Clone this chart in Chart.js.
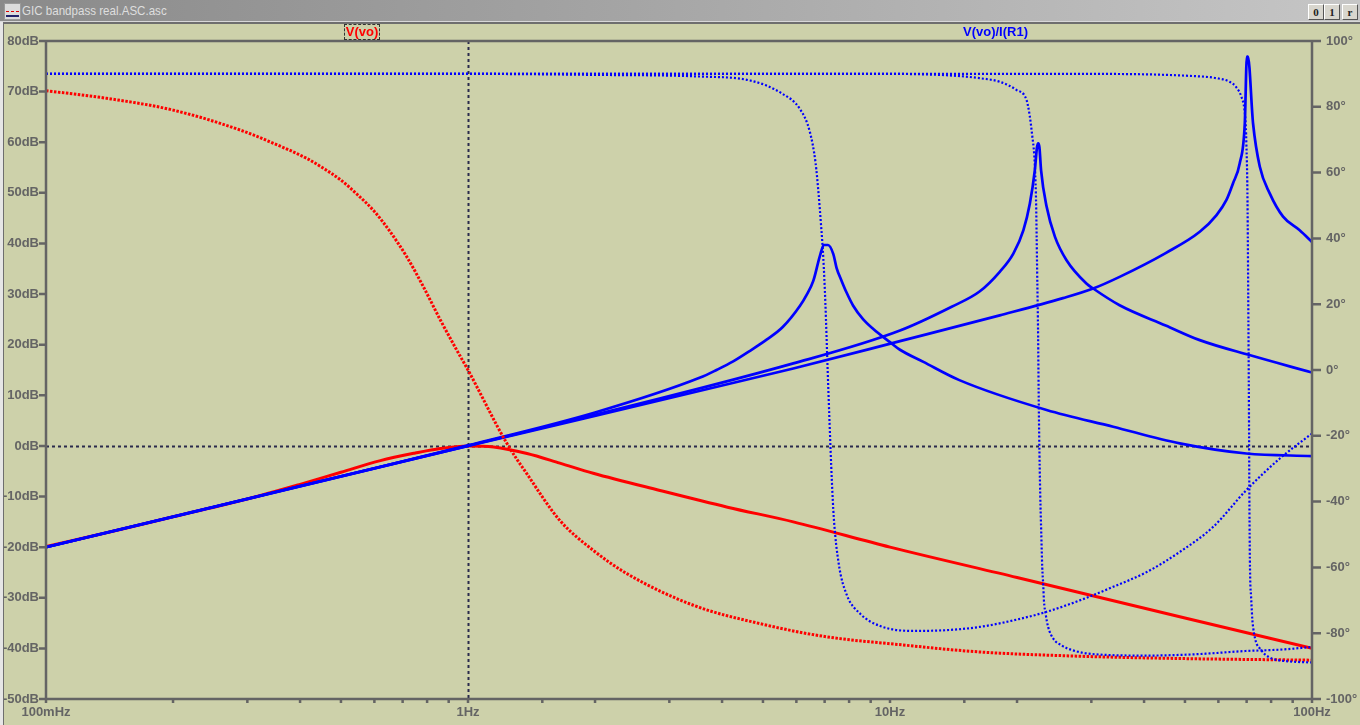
<!DOCTYPE html>
<html>
<head>
<meta charset="utf-8">
<script src="https://cdn.jsdelivr.net/npm/chart.js@4.4.0/dist/chart.umd.min.js"></script>
<style>
html,body{margin:0;padding:0;width:1360px;height:725px;overflow:hidden;background:#cdd1aa;}
#wrap{position:relative;width:1360px;height:725px;}
#c{position:absolute;left:0;top:0;}
#titlebar{position:absolute;left:0;top:0;width:1360px;height:21px;background:linear-gradient(to right,#8a8a8a 0%,#a4a4a4 45%,#c6c6c6 100%);z-index:2;}
#topline{position:absolute;left:0;top:21px;width:1360px;height:2px;background:#6e6e6e;border-top:1px solid #d8d8d8;z-index:2;}
#leftline{position:absolute;left:0;top:22px;width:3px;height:703px;background:#e6e6e6;border-right:1px solid #6e6e6e;z-index:2;}
#title{position:absolute;left:22px;top:3px;font:13px "Liberation Sans",Arial,sans-serif;color:#dedede;white-space:nowrap;transform:scaleX(0.89);transform-origin:0 0;}
#icon{position:absolute;left:4px;top:3px;width:15px;height:15px;background:#dcdcdc;border:1px solid #9a9a9a;}
#icon .r{position:absolute;left:1px;top:7px;width:13px;height:0;border-top:1px dashed #d00;}
#icon .b{position:absolute;left:1px;top:11px;width:13px;height:2px;background:#22226a;}
.btn{position:absolute;top:4px;width:14px;height:14px;background:#d8d6ce;border:1px solid;border-color:#fff #555 #555 #fff;font:bold 11px "Liberation Serif",serif;color:#222;text-align:center;line-height:14px;}
.lab{position:absolute;font:bold 13px "Liberation Sans",Arial,sans-serif;white-space:nowrap;z-index:3;}
#l1{left:344px;top:24px;width:34px;height:14px;line-height:14px;text-align:center;color:#ff0000;border:1px dashed #333;}
#l2{left:963px;top:24px;line-height:16px;color:#0000ff;}
</style>
</head>
<body>
<div id="wrap">
  <canvas id="c" width="1360" height="725"></canvas>
  <div id="titlebar">
    <div id="icon"><div class="r"></div><div class="b"></div></div>
    <div id="title">GIC bandpass real.ASC.asc</div>
    <div class="btn" style="left:1308px">0</div>
    <div class="btn" style="left:1324px">1</div>
    <div class="btn" style="left:1342px">r</div>
  </div>
  <div id="topline"></div>
  <div id="leftline"></div>
  <div class="lab" id="l1">V(vo)</div>
  <div class="lab" id="l2">V(vo)/I(R1)</div>
</div>
<script>
// ---- tick labels ----
const xTickLabels = ['100mHz', '1Hz', '10Hz', '100Hz'];
const yLeftUnit = 'dB';
const yRightUnit = '°';

// ---- V(vo) magnitude (dB) ----
const fRedMag = [0.1, 0.15, 0.2, 0.3, 0.4, 0.5, 0.62, 0.75, 0.86, 1.0, 1.15, 1.38, 1.65, 1.98, 2.85, 4.12, 5.9, 10, 20, 50, 100];
const redMag  = [-19.9, -16.5, -14.0, -10.5, -7.6, -5.2, -2.9, -1.4, -0.5, 0, -0.2, -1.5, -3.4, -5.4, -8.8, -12.1, -15.0, -20.0, -26.0, -34.0, -40.0];

// ---- V(vo) phase (deg) ----
const fRedPh = [0.1, 0.139, 0.2, 0.289, 0.346, 0.415, 0.4545, 0.5, 0.545, 0.6, 0.654, 0.716, 0.784, 0.86, 0.941, 1.0, 1.236, 1.378, 1.65, 1.98, 2.38, 3.42, 4.92, 7.08, 10.4, 16.3, 28.2, 48.6, 100];
const redPh  = [84.9, 82.6, 79.0, 72.9, 68.9, 64.3, 61.3, 57.7, 53.5, 48.2, 42.0, 34.4, 25.3, 15.2, 6.0, 0, -22.3, -31.5, -45.7, -54.8, -61.9, -71.5, -77.1, -81.1, -83.4, -85.7, -87.0, -87.7, -88.2];

// ---- V(vo)/I(R1) magnitude, step 1 (dB) ----
const fZ1 = [0.1, 0.2, 0.5, 1, 2, 3.55, 3.88, 4.25, 4.66, 5.1, 5.57, 6.12, 6.35, 6.58, 6.82, 6.97, 7.13, 7.34, 7.47, 7.68, 7.89, 8.18, 8.64, 9.13, 10.0, 10.56, 12, 14.6, 23.5, 33.8, 48.6, 69.9, 100];
const z1  = [-20, -14, -6, 0.1, 6.6, 13.5, 15.0, 16.7, 18.8, 21.0, 23.5, 27.7, 29.9, 32.6, 37.5, 39.7, 39.7, 37.9, 35.2, 32.6, 30.3, 27.7, 25.0, 23.1, 20.5, 19.0, 16.6, 13.0, 7.1, 3.8, 0.5, -1.5, -2.0];
// ---- step 2 ----
const fZ2 = [0.1, 1, 5.9, 10.56, 14, 16.3, 18.2, 19.6, 20.7, 21.45, 22.04, 22.3, 22.45, 22.6, 22.8, 23.5, 24.6, 26.2, 29.2, 30.3, 35, 45, 54.2, 71.4, 100];
const z2  = [-20, 0, 16.3, 22.8, 27.5, 30.5, 34.4, 38.0, 42.6, 47.9, 54.5, 59.0, 59.8, 59.0, 54.5, 47.3, 41.3, 36.7, 32.1, 31.1, 27.8, 23.8, 20.9, 17.9, 14.5];
// ---- step 3 ----
const fZ3 = [0.1, 1, 5.9, 10.56, 18.2, 25.7, 30.3, 35, 45, 54.2, 59.4, 62.7, 65, 67.4, 69.3, 70.1, 70.5, 72.5, 75.2, 79.4, 85.4, 93.5, 100];
const z3  = [-20, 0, 15.3, 20.7, 25.8, 29.2, 31.1, 33.4, 38.1, 42.3, 45.6, 48.6, 51.9, 55.8, 63.7, 76.9, 76.9, 63.7, 55.2, 49.9, 45.3, 42.6, 40.3];

// ---- V(vo)/I(R1) phase (deg) ----
const fP1 = [0.1, 1, 2, 3.55, 4.66, 5.57, 6.12, 6.46, 6.66, 6.77, 6.86, 6.95, 7.03, 7.11, 7.19, 7.28, 7.36, 7.56, 7.89, 8.5, 9.47, 11.3, 13.5, 16.3, 19.6, 23.5, 28.2, 33.8, 40.6, 48.6, 58.3, 69.9, 83.9, 100];
const p1  = [90, 90, 89.7, 89.2, 88.0, 83.9, 79.3, 72.3, 63.1, 53.8, 44.5, 34.0, 20.1, 1.5, -15.9, -33.4, -45.0, -58.9, -68.2, -74.1, -77.8, -79.3, -79.1, -78.1, -76.1, -73.5, -70.0, -65.9, -61.4, -55.3, -47.7, -36.5, -26.9, -19.3];
const fP2 = [0.1, 10, 14, 16.3, 18.2, 19.95, 21.06, 21.45, 21.72, 21.97, 22.13, 22.2, 22.25, 22.32, 22.44, 22.5, 22.57, 22.7, 22.82, 22.95, 23.08, 23.16, 23.37, 23.7, 24.36, 25.5, 27.1, 30.6, 40.6, 53, 69.9, 83.9, 100];
const p2  = [90, 90, 89.5, 88.7, 87.6, 85.1, 82.1, 77.0, 71.4, 65.3, 56.7, 50.0, 42.0, 30.0, 10.0, -6.0, -20.0, -38.0, -49.0, -60.0, -65.6, -70.0, -74.0, -78.1, -81.6, -83.7, -85.2, -86.4, -86.8, -86.4, -85.4, -85.0, -84.2];
const fP3 = [0.1, 30, 51.3, 59.4, 63.8, 66.2, 68.0, 69.2, 69.7, 69.9, 70.3, 70.6, 70.9, 71.05, 71.2, 71.4, 71.7, 71.9, 72.2, 72.6, 72.9, 73.3, 73.9, 75.3, 77.3, 80.3, 85.4, 91.5, 100];
const p3  = [90, 90, 89.4, 88.7, 87.6, 85.9, 83.1, 79.0, 73.9, 68.9, 54, 24, -13.5, -37.8, -54, -64.3, -68.6, -71.6, -75.8, -78.6, -80.1, -81.6, -83.2, -84.7, -86.4, -87.7, -88.4, -88.7, -88.9];

const pts = (fs, vs) => fs.map((f, i) => ({x: f, y: vs[i]}));
const RED = '#ff0000', BLUE = '#0000ff';
const FONT = {family: '"Liberation Sans", Arial, sans-serif', size: 13, weight: 'bold'};
const AXC = '#646464';

const magDs = (d, c, w) => ({data: d, borderColor: c, borderWidth: w, yAxisID: 'y', pointRadius: 0, fill: false});
const phDs = (d, c, w, dash) => ({data: d, borderColor: c, borderWidth: w, borderDash: dash, yAxisID: 'y2', pointRadius: 0, fill: false});

// dataset index 0 is drawn on top
const datasets = [
  phDs(pts(fP1, p1), BLUE, 2.2, [2, 2]),
  phDs(pts(fP2, p2), BLUE, 2.2, [2, 2]),
  phDs(pts(fP3, p3), BLUE, 2.2, [2, 2]),
  phDs(pts(fRedPh, redPh), RED, 3, [2.5, 1.5]),
  magDs(pts(fZ1, z1), BLUE, 2.7),
  magDs(pts(fZ2, z2), BLUE, 2.7),
  magDs(pts(fZ3, z3), BLUE, 2.7),
  magDs(pts(fRedMag, redMag), RED, 3)
];

const framePlugin = {
  id: 'ltFrame',
  beforeDatasetsDraw(chart) {
    const {ctx, chartArea: a, scales} = chart;
    ctx.save();
    ctx.strokeStyle = '#2a2a4c';
    ctx.lineWidth = 2;
    ctx.setLineDash([3, 3]);
    const x1 = Math.round(scales.x.getPixelForValue(1)) + 0.5;
    const y0 = Math.round(scales.y.getPixelForValue(0)) + 0.5;
    ctx.beginPath(); ctx.moveTo(x1, a.top); ctx.lineTo(x1, a.bottom); ctx.stroke();
    ctx.beginPath(); ctx.moveTo(a.left, y0); ctx.lineTo(a.right, y0); ctx.stroke();
    ctx.restore();
  },
  afterDatasetsDraw(chart) {
    const {ctx, chartArea: a, scales} = chart;
    ctx.save();
    ctx.strokeStyle = AXC;
    ctx.lineWidth = 2.5;
    ctx.beginPath();
    ctx.moveTo(a.left, a.top); ctx.lineTo(a.right, a.top);
    ctx.moveTo(a.left, a.bottom); ctx.lineTo(a.right, a.bottom);
    ctx.moveTo(a.left, a.top); ctx.lineTo(a.left, a.bottom);
    ctx.moveTo(a.right, a.top); ctx.lineTo(a.right, a.bottom);
    ctx.stroke();
    ctx.beginPath();
    scales.y.ticks.forEach(t => { const y = scales.y.getPixelForValue(t.value); ctx.moveTo(a.left - 7, y); ctx.lineTo(a.left, y); });
    scales.y2.ticks.forEach(t => { const y = scales.y2.getPixelForValue(t.value); ctx.moveTo(a.right, y); ctx.lineTo(a.right + 9, y); });
    scales.x.ticks.forEach(t => { const x = scales.x.getPixelForValue(t.value); ctx.moveTo(x, a.bottom); ctx.lineTo(x, a.bottom + 4); });
    ctx.stroke();
    ctx.restore();
  }
};

const isDecade = v => Math.abs(Math.log10(v) - Math.round(Math.log10(v))) < 1e-6;

new Chart(document.getElementById('c'), {
  type: 'line',
  data: {datasets},
  options: {
    responsive: false,
    animation: false,
    devicePixelRatio: 1,
    layout: {padding: {top: 41, left: 0, right: 0, bottom: 0}},
    plugins: {legend: {display: false}, tooltip: {enabled: false}},
    elements: {line: {cubicInterpolationMode: 'monotone'}, point: {radius: 0}},
    scales: {
      x: {
        type: 'logarithmic', min: 0.1, max: 100, position: 'bottom',
        afterFit(s) { s.height = 26; },
        grid: {display: false, drawTicks: false}, border: {display: false},
        ticks: {
          autoSkip: false, maxRotation: 0, minRotation: 0, padding: 6, color: AXC, font: FONT,
          callback: v => isDecade(v) ? xTickLabels[Math.round(Math.log10(v)) + 1] : ''
        }
      },
      y: {
        type: 'linear', position: 'left', min: -50, max: 80,
        afterFit(s) { s.width = 46; },
        grid: {display: false, drawTicks: false}, border: {display: false},
        ticks: {stepSize: 10, padding: 7, color: AXC, font: FONT, callback: v => v + yLeftUnit}
      },
      y2: {
        type: 'linear', position: 'right', min: -100, max: 100,
        afterFit(s) { s.width = 48; },
        grid: {display: false, drawTicks: false}, border: {display: false},
        ticks: {stepSize: 20, padding: 14, color: AXC, font: FONT, callback: v => v + yRightUnit}
      }
    }
  },
  plugins: [framePlugin]
});
</script>
</body>
</html>
